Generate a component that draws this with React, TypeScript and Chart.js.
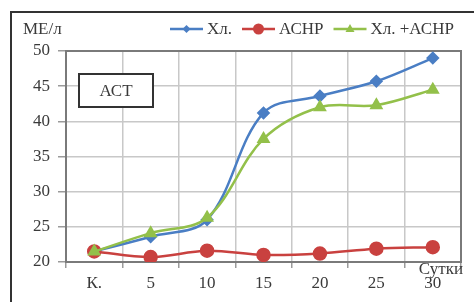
import React, { useEffect, useRef } from 'react';
import { Chart, registerables } from 'chart.js';

Chart.register(...registerables);

const categories = ['К.', '5', '10', '15', '20', '25', '30'];
const seriesXl = [21.5, 23.6, 26.0, 41.2, 43.6, 45.7, 49.0];
const seriesAchp = [21.5, 20.7, 21.6, 21.0, 21.2, 21.9, 22.1];
const seriesBoth = [21.5, 24.1, 26.3, 37.5, 42.0, 42.3, 44.5];
const seriesNames = ['Хл.', 'АСНР', 'Хл. +АСНР'];
const yMin = 20;
const yMax = 50;
const yStep = 5;
const yTitle = 'МЕ/л';
const xTitle = 'Сутки';
const boxLabel = 'АСТ';

const FONT = "'Liberation Serif', 'Times New Roman', serif";
const TEXT = '#3a3a3a';
const BLUE = '#4a7ec4';
const RED = '#c9413f';
const GREEN = '#93c04a';

function drawMarker(ctx: CanvasRenderingContext2D, style: string, x: number, y: number, r: number, color: string) {
  ctx.save();
  ctx.fillStyle = color;
  ctx.beginPath();
  if (style === 'circle') {
    ctx.arc(x, y, r, 0, Math.PI * 2);
  } else if (style === 'rectRot') {
    ctx.moveTo(x, y - r);
    ctx.lineTo(x + r, y);
    ctx.lineTo(x, y + r);
    ctx.lineTo(x - r, y);
    ctx.closePath();
  } else {
    ctx.moveTo(x, y - r);
    ctx.lineTo(x + r * 0.9, y + r * 0.6);
    ctx.lineTo(x - r * 0.9, y + r * 0.6);
    ctx.closePath();
  }
  ctx.fill();
  ctx.restore();
}

const decorPlugin = {
  id: 'decor',
  beforeDatasetsDraw(chart: any) {
    const ctx: CanvasRenderingContext2D = chart.ctx;
    const a = chart.chartArea;
    ctx.save();
    ctx.strokeStyle = '#7a7a7a';
    ctx.lineWidth = 2;
    ctx.strokeRect(a.left, a.top, a.right - a.left, a.bottom - a.top);
    const bx = 79, by = 74, bw = 74, bh = 33;
    ctx.fillStyle = '#ffffff';
    ctx.fillRect(bx, by, bw, bh);
    ctx.strokeStyle = '#333333';
    ctx.lineWidth = 2;
    ctx.strokeRect(bx, by, bw, bh);
    ctx.fillStyle = TEXT;
    ctx.font = `17px ${FONT}`;
    ctx.textAlign = 'center';
    ctx.textBaseline = 'middle';
    ctx.fillText(boxLabel, bx + bw / 2, by + bh / 2 + 1);
    ctx.restore();
  },
  afterDraw(chart: any) {
    const ctx: CanvasRenderingContext2D = chart.ctx;
    ctx.save();
    ctx.strokeStyle = '#333333';
    ctx.lineWidth = 2;
    ctx.strokeRect(11, 12, 520, 400);
    ctx.font = `17px ${FONT}`;
    ctx.fillStyle = TEXT;
    ctx.textBaseline = 'middle';
    ctx.textAlign = 'left';
    ctx.fillText(yTitle, 23, 30);
    ctx.textAlign = 'right';
    ctx.fillText(xTitle, 463, 270);
    const colors = [BLUE, RED, GREEN];
    const styles = ['rectRot', 'circle', 'triangle'];
    const radii = [4, 5.5, 5];
    let x = 170;
    const ly = 29;
    ctx.textAlign = 'left';
    for (let i = 0; i < seriesNames.length; i++) {
      const len = 33;
      ctx.strokeStyle = colors[i];
      ctx.lineWidth = 2.5;
      ctx.beginPath();
      ctx.moveTo(x, ly);
      ctx.lineTo(x + len, ly);
      ctx.stroke();
      drawMarker(ctx, styles[i], x + len / 2, ly, radii[i], colors[i]);
      x += len + 4;
      ctx.fillStyle = TEXT;
      ctx.fillText(seriesNames[i], x, ly + 1);
      x += ctx.measureText(seriesNames[i]).width + 10;
    }
    ctx.restore();
  },
};

export default function App() {
  const ref = useRef<HTMLCanvasElement>(null);
  useEffect(() => {
    if (!ref.current) return;
    const chart = new Chart(ref.current, {
      type: 'line',
      data: {
        labels: categories,
        datasets: [
          {
            label: seriesNames[0],
            data: seriesXl,
            borderColor: BLUE,
            backgroundColor: BLUE,
            borderWidth: 2.5,
            pointStyle: 'rectRot',
            pointRadius: 5,
            tension: 0.35,
            order: 2,
          },
          {
            label: seriesNames[1],
            data: seriesAchp,
            borderColor: RED,
            backgroundColor: RED,
            borderWidth: 2.5,
            pointStyle: 'circle',
            pointRadius: 6,
            tension: 0.35,
            order: 1,
          },
          {
            label: seriesNames[2],
            data: seriesBoth,
            borderColor: GREEN,
            backgroundColor: GREEN,
            borderWidth: 2.5,
            pointStyle: 'triangle',
            pointRadius: 5.5,
            tension: 0.35,
            order: 0,
          },
        ],
      },
      options: {
        responsive: false,
        animation: false,
        layout: { padding: { left: 0, right: 13, top: 51, bottom: 0 } },
        plugins: {
          legend: { display: false },
          tooltip: { enabled: false },
        },
        scales: {
          x: {
            offset: true,
            grid: {
              offset: true,
              color: '#c8c8c8',
              lineWidth: 1.5,
              tickLength: 6,
              tickColor: '#9a9a9a',
            },
            border: { display: false },
            ticks: {
              font: { family: FONT, size: 17 },
              color: TEXT,
              padding: 5,
              maxRotation: 0,
              autoSkip: false,
            },
            afterFit: (s: any) => {
              s.height = 40;
            },
          },
          y: {
            min: yMin,
            max: yMax,
            grid: {
              color: '#c8c8c8',
              lineWidth: 1.5,
              tickLength: 8,
              tickColor: '#9a9a9a',
            },
            border: { display: false },
            ticks: {
              stepSize: yStep,
              font: { family: FONT, size: 17 },
              color: TEXT,
              padding: 8,
            },
            afterFit: (s: any) => {
              s.width = 66;
            },
          },
        },
      },
      plugins: [decorPlugin],
    });
    return () => chart.destroy();
  }, []);
  return (
    <div style={{ position: 'fixed', left: 0, top: 0, width: 474, height: 302, background: '#fff' }}>
      <canvas ref={ref} width={474} height={302} />
    </div>
  );
}
